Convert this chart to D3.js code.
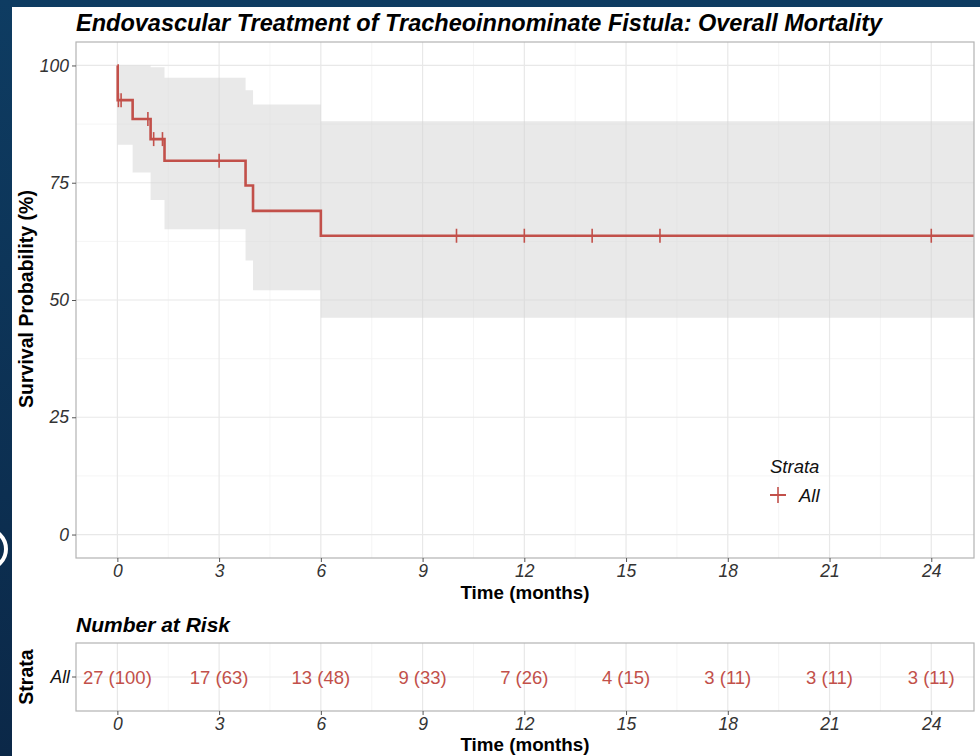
<!DOCTYPE html>
<html lang="en">
<head>
<meta charset="utf-8">
<title>Overall Mortality</title>
<script src="https://d3js.org/d3.v7.min.js"></script>
<style>
  html, body { margin: 0; padding: 0; background: #0c365a; }
  svg { display: block; font-family: "Liberation Sans", Arial, sans-serif; }
  .tick text { font-style: italic; fill: #333; font-size: 17.5px; }
  .tick line { stroke: #555; }
</style>
</head>
<body>
<script>

/////////////////// Data //////////////
var stepTimes = [0, 0.01, 0.45, 0.98, 1.39, 3.78, 4.0, 6.0, 25.3];
var survival  = [100, 92.6, 88.6, 84.3, 79.7, 74.4, 69.0, 63.7, 63.7];
var upperCI   = [100, 100, 100, 99.6, 97.4, 94.7, 91.7, 88.1, 88.1];
var lowerCI   = [100, 83.1, 77.2, 71.3, 65.1, 58.4, 52.1, 46.2, 46.2];
var censorTimes = [0.03, 0.11, 0.9, 1.07, 1.33, 3.0, 10, 12, 14, 16, 24];

var riskTimes = [0, 3, 6, 9, 12, 15, 18, 21, 24];
var riskN     = [27, 17, 13, 9, 7, 4, 3, 3, 3];
var riskPct   = [100, 63, 48, 33, 26, 15, 11, 11, 11];

var xTicks = [0, 3, 6, 9, 12, 15, 18, 21, 24];
var yTicks = [0, 25, 50, 75, 100];

/////////////////// Var //////////////
var width = 980, height = 756;
var lineColor = "#c2504a";
var panel = {left: 76, right: 974, top: 42, bottom: 558};
var riskPanel = {top: 643, bottom: 711};

var svg = d3.select("body").append("svg")
    .attr("width", width)
    .attr("height", height);

// slide background + white card
var defs = svg.append("defs");
var grad = defs.append("linearGradient").attr("id", "bg").attr("x1", 0).attr("y1", 0).attr("x2", 0).attr("y2", 1);
grad.append("stop").attr("offset", "0%").attr("stop-color", "#0e3c62");
grad.append("stop").attr("offset", "100%").attr("stop-color", "#0b2848");
svg.append("rect").attr("width", width).attr("height", height).attr("fill", "url(#bg)");
svg.append("circle").attr("cx", -14).attr("cy", 549).attr("r", 20)
    .attr("fill", "none").attr("stroke", "#fff").attr("stroke-width", 4);
svg.append("rect").attr("x", 12).attr("y", 7).attr("width", width - 12).attr("height", height - 7).attr("fill", "#fff");

defs.append("clipPath").attr("id", "clip").append("rect")
    .attr("x", panel.left).attr("y", panel.top)
    .attr("width", panel.right - panel.left).attr("height", panel.bottom - panel.top);

//////////////////////// Scales ///////////////////////////////
var x = d3.scaleLinear().domain([-1.22, 25.26]).range([panel.left, panel.right]);
var y = d3.scaleLinear().domain([-5, 105]).range([panel.bottom, panel.top]);

// title
svg.append("text")
    .attr("x", panel.left).attr("y", 31)
    .style("font-size", "23.5px").style("font-weight", "bold").style("font-style", "italic")
    .attr("fill", "#000")
    .text("Endovascular Treatment of Tracheoinnominate Fistula: Overall Mortality");

//============================== Grid
var minorX = xTicks.slice(0, -1).map(function(d) { return d + 1.5; });
var minorY = yTicks.slice(0, -1).map(function(d) { return d + 12.5; });
var grid = svg.append("g");
grid.selectAll("line.mx").data(minorX).enter().append("line")
    .attr("x1", x).attr("x2", x).attr("y1", panel.top).attr("y2", panel.bottom)
    .attr("stroke", "#f2f2f2").attr("stroke-width", 0.8);
grid.selectAll("line.my").data(minorY).enter().append("line")
    .attr("y1", y).attr("y2", y).attr("x1", panel.left).attr("x2", panel.right)
    .attr("stroke", "#f2f2f2").attr("stroke-width", 0.8);
grid.selectAll("line.gx").data(xTicks).enter().append("line")
    .attr("x1", x).attr("x2", x).attr("y1", panel.top).attr("y2", panel.bottom)
    .attr("stroke", "#e8e8e8").attr("stroke-width", 1.2);
grid.selectAll("line.gy").data(yTicks).enter().append("line")
    .attr("y1", y).attr("y2", y).attr("x1", panel.left).attr("x2", panel.right)
    .attr("stroke", "#e8e8e8").attr("stroke-width", 1.2);

//============================== Band + curve
var km = stepTimes.map(function(t, i) {
    return {t: t, s: survival[i], lo: lowerCI[i], hi: upperCI[i]};
});
var plot = svg.append("g").attr("clip-path", "url(#clip)");

plot.append("path")
    .datum(km)
    .attr("d", d3.area().curve(d3.curveStepAfter)
        .x(function(d) { return x(d.t); })
        .y0(function(d) { return y(d.lo); })
        .y1(function(d) { return y(d.hi); }))
    .attr("fill", "#d3d3d3").attr("fill-opacity", 0.5);

plot.append("path")
    .datum(km)
    .attr("d", d3.line().curve(d3.curveStepAfter)
        .x(function(d) { return x(d.t); })
        .y(function(d) { return y(d.s); }))
    .attr("fill", "none").attr("stroke", lineColor).attr("stroke-width", 2.6);

function survAt(t) {
    var i = d3.bisectRight(stepTimes, t) - 1;
    return survival[Math.max(0, i)];
}
plot.selectAll("line.censor").data(censorTimes).enter().append("line")
    .attr("x1", x).attr("x2", x)
    .attr("y1", function(d) { return y(survAt(d)) - 7; })
    .attr("y2", function(d) { return y(survAt(d)) + 7; })
    .attr("stroke", lineColor).attr("stroke-width", 1.6);

// panel border
svg.append("rect")
    .attr("x", panel.left).attr("y", panel.top)
    .attr("width", panel.right - panel.left).attr("height", panel.bottom - panel.top)
    .attr("fill", "none").attr("stroke", "#b3b3b3").attr("stroke-width", 1.2);

//============================== Axes
var yAxis = svg.append("g")
    .attr("transform", "translate(" + panel.left + ",0)")
    .call(d3.axisLeft(y).tickValues(yTicks).tickSize(4).tickPadding(3));
yAxis.select(".domain").remove();

var xAxis = svg.append("g")
    .attr("transform", "translate(0," + panel.bottom + ")")
    .call(d3.axisBottom(x).tickValues(xTicks).tickSize(4).tickPadding(3));
xAxis.select(".domain").remove();

svg.append("text")
    .attr("x", (panel.left + panel.right) / 2).attr("y", 599)
    .attr("text-anchor", "middle")
    .style("font-size", "18.8px").style("font-weight", "bold")
    .text("Time (months)");

svg.append("text")
    .attr("transform", "translate(33," + ((panel.top + panel.bottom) / 2 - 1) + ") rotate(-90)")
    .attr("text-anchor", "middle")
    .style("font-size", "19.5px").style("font-weight", "bold")
    .text("Survival Probability (%)");

//============================== Legend
svg.append("text")
    .attr("x", 770).attr("y", 473)
    .style("font-size", "18.5px").style("font-style", "italic").attr("fill", "#111")
    .text("Strata");
svg.append("line").attr("x1", 770).attr("x2", 786).attr("y1", 495).attr("y2", 495)
    .attr("stroke", lineColor).attr("stroke-width", 2);
svg.append("line").attr("x1", 778).attr("x2", 778).attr("y1", 487).attr("y2", 503)
    .attr("stroke", lineColor).attr("stroke-width", 1.6);
svg.append("text")
    .attr("x", 799).attr("y", 502)
    .style("font-size", "18.5px").style("font-style", "italic").attr("fill", "#111")
    .text("All");

//============================== Risk table
svg.append("text")
    .attr("x", panel.left).attr("y", 632)
    .style("font-size", "21px").style("font-weight", "bold").style("font-style", "italic")
    .text("Number at Risk");

var rowY = (riskPanel.top + riskPanel.bottom) / 2;
var rg = svg.append("g");
rg.selectAll("line.rmx").data(minorX).enter().append("line")
    .attr("x1", x).attr("x2", x).attr("y1", riskPanel.top).attr("y2", riskPanel.bottom)
    .attr("stroke", "#f2f2f2").attr("stroke-width", 0.8);
rg.selectAll("line.rgx").data(xTicks).enter().append("line")
    .attr("x1", x).attr("x2", x).attr("y1", riskPanel.top).attr("y2", riskPanel.bottom)
    .attr("stroke", "#e8e8e8").attr("stroke-width", 1.2);
rg.append("line").attr("x1", panel.left).attr("x2", panel.right).attr("y1", rowY).attr("y2", rowY)
    .attr("stroke", "#e8e8e8").attr("stroke-width", 1.2);

rg.selectAll("text.risk").data(riskTimes).enter().append("text")
    .attr("x", x).attr("y", rowY + 6.5)
    .attr("text-anchor", "middle")
    .style("font-size", "18.5px").attr("fill", lineColor)
    .text(function(d, i) { return riskN[i] + " (" + riskPct[i] + ")"; });

svg.append("rect")
    .attr("x", panel.left).attr("y", riskPanel.top)
    .attr("width", panel.right - panel.left).attr("height", riskPanel.bottom - riskPanel.top)
    .attr("fill", "none").attr("stroke", "#b3b3b3").attr("stroke-width", 1.2);

var rAxis = svg.append("g")
    .attr("transform", "translate(0," + riskPanel.bottom + ")")
    .call(d3.axisBottom(x).tickValues(xTicks).tickSize(4).tickPadding(3));
rAxis.select(".domain").remove();

svg.append("line").attr("x1", panel.left - 4).attr("x2", panel.left).attr("y1", rowY).attr("y2", rowY)
    .attr("stroke", "#555");
svg.append("text")
    .attr("x", panel.left - 6).attr("y", rowY + 6)
    .attr("text-anchor", "end")
    .style("font-size", "17.5px").style("font-style", "italic").attr("fill", "#111")
    .text("All");

svg.append("text")
    .attr("x", (panel.left + panel.right) / 2).attr("y", 751)
    .attr("text-anchor", "middle")
    .style("font-size", "18.8px").style("font-weight", "bold")
    .text("Time (months)");

svg.append("text")
    .attr("transform", "translate(33," + rowY + ") rotate(-90)")
    .attr("text-anchor", "middle")
    .style("font-size", "19.5px").style("font-weight", "bold")
    .text("Strata");

</script>
</body>
</html>
